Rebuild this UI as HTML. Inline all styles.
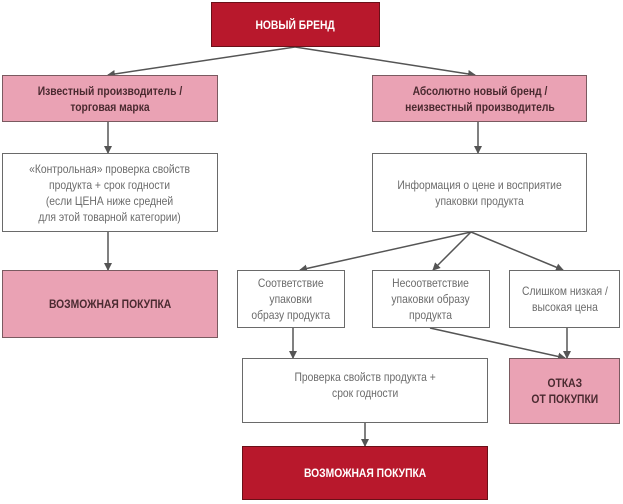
<!DOCTYPE html>
<html><head><meta charset="utf-8"><style>
body{margin:0;width:623px;height:504px;background:#fff;position:relative;overflow:hidden;font-family:"Liberation Sans Narrow","Liberation Sans",sans-serif;}
.b{position:absolute;box-sizing:border-box;border:1.5px solid #6a6a6a;display:flex;align-items:center;justify-content:center;text-align:center;font-size:12px;line-height:16px;color:#6b6b6b;background:#fff;}
.b span{display:inline-block;transform:scaleX(0.86);white-space:nowrap;}
.p{background:#eaa2b4;color:#4a2a30;font-weight:bold;border-color:#7a5a60;}
.d{background:#b8182c;color:#fff;font-weight:bold;border-color:#6a1018;}
svg{position:absolute;left:0;top:0;}
</style></head><body>
<svg width="623" height="504"><defs><marker id="a" markerWidth="8" markerHeight="8" refX="7" refY="4" orient="auto" markerUnits="userSpaceOnUse"><path d="M0,0L8,4L0,8z" fill="#555"/></marker></defs>
<g stroke="#555" stroke-width="1.5" fill="none" marker-end="url(#a)">
<line x1="295" y1="47" x2="108" y2="75"/>
<line x1="295" y1="47" x2="475" y2="75"/>
<line x1="108" y1="122" x2="108" y2="153"/>
<line x1="478" y1="122" x2="478" y2="153"/>
<line x1="108" y1="232" x2="108" y2="270"/>
<line x1="471" y1="232" x2="300" y2="270"/>
<line x1="471" y1="232" x2="433" y2="270"/>
<line x1="471" y1="232" x2="563" y2="270"/>
<line x1="293" y1="328" x2="293" y2="358"/>
<line x1="430" y1="328" x2="565" y2="358"/>
<line x1="567" y1="328" x2="567" y2="358"/>
<line x1="365" y1="423" x2="365" y2="446"/>
</g></svg>
<div class="b d" style="left:211px;top:2px;width:169px;height:45px"><span>НОВЫЙ БРЕНД</span></div>
<div class="b p" style="left:2px;top:75px;width:216px;height:47px"><span>Известный производитель /<br>торговая марка</span></div>
<div class="b p" style="left:372px;top:75px;width:215px;height:47px"><span>Абсолютно новый бренд /<br>неизвестный производитель</span></div>
<div class="b" style="left:2px;top:153px;width:216px;height:79px"><span>«Контрольная» проверка свойств<br>продукта + срок годности<br>(если ЦЕНА ниже средней<br>для этой товарной категории)</span></div>
<div class="b" style="left:372px;top:153px;width:215px;height:79px"><span>Информация о цене и восприятие<br>упаковки продукта</span></div>
<div class="b p" style="left:2px;top:270px;width:216px;height:68px"><span>ВОЗМОЖНАЯ ПОКУПКА</span></div>
<div class="b" style="left:237px;top:270px;width:108px;height:58px"><span>Соответствие<br>упаковки<br>образу продукта</span></div>
<div class="b" style="left:372px;top:270px;width:118px;height:58px"><span>Несоответствие<br>упаковки образу<br>продукта</span></div>
<div class="b" style="left:509px;top:270px;width:111px;height:58px"><span>Слишком низкая /<br>высокая цена</span></div>
<div class="b" style="left:242px;top:358px;width:246px;height:65px;align-items:flex-start;padding-top:10px"><span>Проверка свойств продукта +<br>срок годности</span></div>
<div class="b p" style="left:509px;top:358px;width:111px;height:66px"><span>ОТКАЗ<br>ОТ ПОКУПКИ</span></div>
<div class="b d" style="left:242px;top:446px;width:246px;height:54px"><span>ВОЗМОЖНАЯ ПОКУПКА</span></div>
</body></html>
